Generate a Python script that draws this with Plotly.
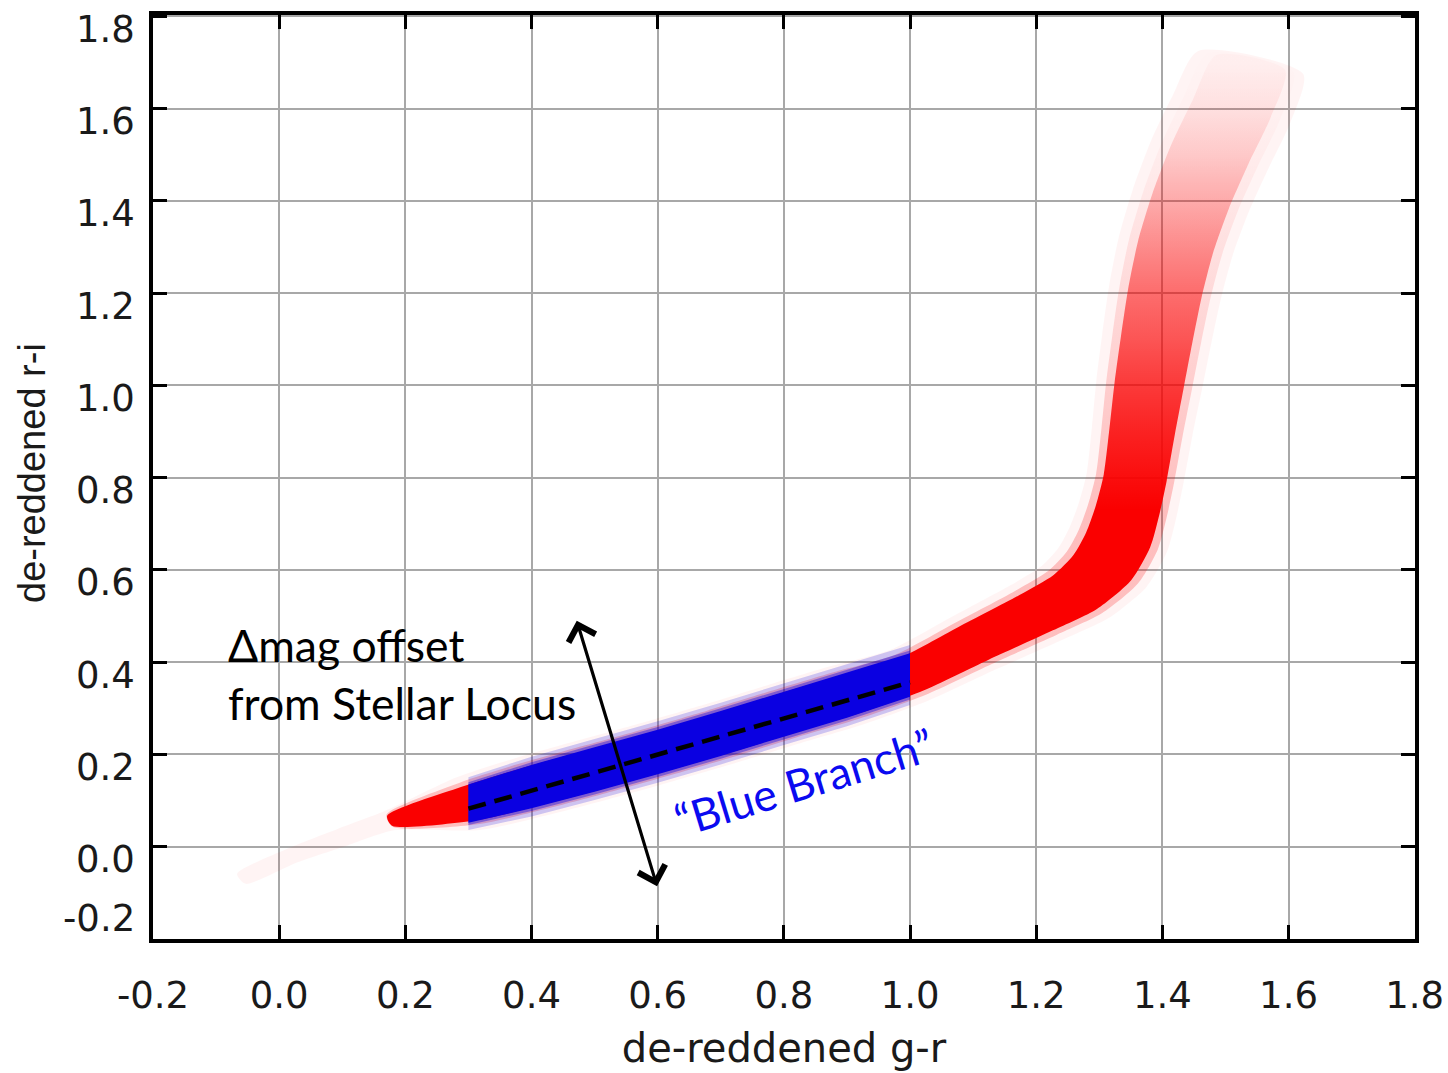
import numpy as np
import plotly.graph_objects as go

# Ridge line of the stellar locus in de-reddened colour space
locus_gr = [-0.06, 0.02, 0.10, 0.175, 0.30, 0.40, 0.50, 0.60, 0.70, 0.80, 0.90,
            1.00, 1.10, 1.20, 1.262, 1.305, 1.330, 1.345, 1.357, 1.368, 1.379,
            1.391, 1.404, 1.421, 1.445, 1.475, 1.510, 1.540]
locus_ri = [-0.07, -0.02, 0.02, 0.056, 0.093, 0.130, 0.167, 0.205, 0.245, 0.287, 0.328,
            0.372, 0.440, 0.507, 0.552, 0.605, 0.665, 0.730, 0.800, 0.900, 1.000,
            1.100, 1.200, 1.300, 1.400, 1.500, 1.600, 1.700]
# half-width of the stellar distribution across the ridge (mag)
locus_width = [0.005, 0.008, 0.010, 0.012, 0.040, 0.045, 0.046, 0.046, 0.046, 0.046, 0.046,
               0.042, 0.045, 0.049, 0.053, 0.056, 0.056, 0.054, 0.053, 0.055, 0.058,
               0.060, 0.062, 0.064, 0.066, 0.068, 0.068, 0.060]
# relative star density along the ridge (1 = saturated)
locus_density = [0.05, 0.05, 0.08, 1.0, 1.0, 1.0, 1.0, 1.0, 1.0, 1.0, 1.0,
                 1.0, 1.0, 1.0, 1.0, 1.0, 1.0, 1.0, 0.93, 0.83, 0.72,
                 0.60, 0.50, 0.38, 0.26, 0.15, 0.07, 0.02]

# blue-branch selection (g-r limits) and the fitted offset reference line
blue_branch_gr = [0.30, 1.00]
offset_line_gr = [0.30, 1.00]
offset_line_ri = [0.082, 0.356]

# perpendicular offset arrow (g-r, r-i) tail and head
offset_arrow_gr = [0.471, 0.599]
offset_arrow_ri = [0.493, -0.086]

tick_vals = [-0.2, 0.0, 0.2, 0.4, 0.6, 0.8, 1.0, 1.2, 1.4, 1.6, 1.8]
tick_text = ["-0.2", "0.0", "0.2", "0.4", "0.6", "0.8", "1.0", "1.2", "1.4", "1.6", "1.8"]

gx = np.array(locus_gr)
gy = np.array(locus_ri)
gw = np.array(locus_width)
gd = np.array(locus_density)
tx = np.gradient(gx)
ty = np.gradient(gy)
tn = np.hypot(tx, ty)
nx, ny = -ty / tn, tx / tn

RED = "250,0,0"
BLUE = "10,0,225"
last = len(gx) - 1
tip = 3


def ribbon(i0, i1, scale, pad, vertical=False):
    s = slice(i0, i1 + 1)
    w = gw[s] * scale + pad
    if vertical:
        ux, uy = gx[s], gy[s] + w / ny[s]
        lx, ly = gx[s], gy[s] - w / ny[s]
    else:
        ux, uy = gx[s] + w * nx[s], gy[s] + w * ny[s]
        lx, ly = gx[s] - w * nx[s], gy[s] - w * ny[s]
    return np.concatenate([ux, lx[::-1], ux[:1]]), np.concatenate([uy, ly[::-1], uy[:1]])


def density_gradient(gain):
    """Vertical fill gradient following the star density along the ridge."""
    y0, y1 = gy[tip], gy[last]
    stops = [[float((gy[i] - y0) / (y1 - y0)), f"rgba({RED},{gain * gd[i]:.3f})"]
             for i in range(tip, last + 1)]
    return dict(type="vertical", start=float(y0), stop=float(y1), colorscale=stops)


def add_band(fig, i0, i1, scale, pad, color, alpha, vertical=False, gradient=None):
    px, py = ribbon(i0, i1, scale, pad, vertical)
    shape = "linear" if vertical else "spline"
    kw = dict(fillgradient=gradient) if gradient else dict(fillcolor=f"rgba({color},{alpha:.3f})")
    fig.add_trace(go.Scatter(x=px, y=py, mode="lines", fill="toself",
                             line=dict(width=0, shape=shape, smoothing=0.7),
                             hoverinfo="skip", showlegend=False, **kw))


fig = go.Figure()

# faint envelope of the full locus, then soft edge and dense core
add_band(fig, 0, last, 1.35, 0.006, RED, 0.045)
add_band(fig, tip, last, 1.18, 0.0, RED, 0, gradient=density_gradient(0.22))
add_band(fig, tip, last, 0.95, 0.0, RED, 0, gradient=density_gradient(1.0))

# blue branch: stars with g-r inside the selection limits
b0 = int(np.argmin(np.abs(gx - blue_branch_gr[0])))
b1 = int(np.argmin(np.abs(gx - blue_branch_gr[1])))
add_band(fig, b0, b1, 1.26, 0.004, BLUE, 0.20, vertical=True)
add_band(fig, b0, b1, 1.1, 0.0, BLUE, 0.40, vertical=True)
add_band(fig, b0, b1, 0.98, 0.0, BLUE, 1.0, vertical=True)

# fitted ridge through the blue branch
fig.add_trace(go.Scatter(x=offset_line_gr, y=offset_line_ri, mode="lines",
                         line=dict(color="black", width=4.5, dash="18px,9px"),
                         hoverinfo="skip", showlegend=False))

label_font = "Lato, Carlito, Calibri, 'Open Sans', sans-serif"
axis_font = dict(family="DejaVu Sans", size=37, color="#1a1a1a")

# double-headed arrow across the locus
fig.add_annotation(x=offset_arrow_gr[1], y=offset_arrow_ri[1],
                   ax=offset_arrow_gr[0], ay=offset_arrow_ri[0],
                   xref="x", yref="y", axref="x", ayref="y",
                   showarrow=True, arrowhead=4, startarrowhead=4, arrowside="end+start",
                   arrowsize=1.7, startarrowsize=1.7, arrowwidth=3.2, arrowcolor="black",
                   text="")

fig.add_annotation(x=-0.084, y=0.375, xref="x", yref="y",
                   text="Δmag offset<br>from Stellar Locus", showarrow=False,
                   xanchor="left", yanchor="middle", align="left",
                   font=dict(family=label_font, size=44.5, color="black"))

fig.add_annotation(x=0.832, y=0.142, xref="x", yref="y",
                   text="“Blue Branch”", showarrow=False, textangle=-17,
                   font=dict(family=label_font, size=44.5, color="rgb(10,10,240)"))

# r-i tick labels sit just below their ticks; the lowest one is lifted inside the frame
for v, t in zip(tick_vals, tick_text):
    fig.add_annotation(x=0, y=v, xref="paper", yref="y", text=t, showarrow=False,
                       xanchor="right", yanchor="middle", xshift=-16,
                       yshift=20 if v == min(tick_vals) else -13,
                       font=axis_font)

# r-i axis title
fig.add_annotation(x=0, y=0.5, xref="paper", yref="paper", text="de-reddened r-i",
                   showarrow=False, textangle=-90, xanchor="center", yanchor="middle",
                   xshift=-121, yshift=4,
                   font=dict(family="Liberation Sans", size=38, color="#1a1a1a"))

axis_common = dict(
    tickvals=tick_vals, ticktext=tick_text, automargin=False,
    showgrid=True, gridcolor="#a8a8a8", gridwidth=1.6, zeroline=False,
    showline=True, linecolor="black", linewidth=3.5, mirror="ticks",
    ticks="inside", ticklen=14, tickwidth=3, tickcolor="black",
    tickfont=axis_font,
)

fig.update_layout(
    width=1448, height=1073,
    margin=dict(l=153, r=33, t=15, b=134),
    paper_bgcolor="white", plot_bgcolor="white",
    xaxis=dict(**axis_common, range=[-0.2, 1.8005], ticklabelstandoff=21,
               ticklabeloverflow="allow",
               title=dict(text="de-reddened g-r", standoff=19,
                          font=dict(family="DejaVu Sans", size=40, color="#1a1a1a"))),
    yaxis=dict(**axis_common, range=[-0.2005, 1.803], showticklabels=False),
)

fig.write_html("out.html")
